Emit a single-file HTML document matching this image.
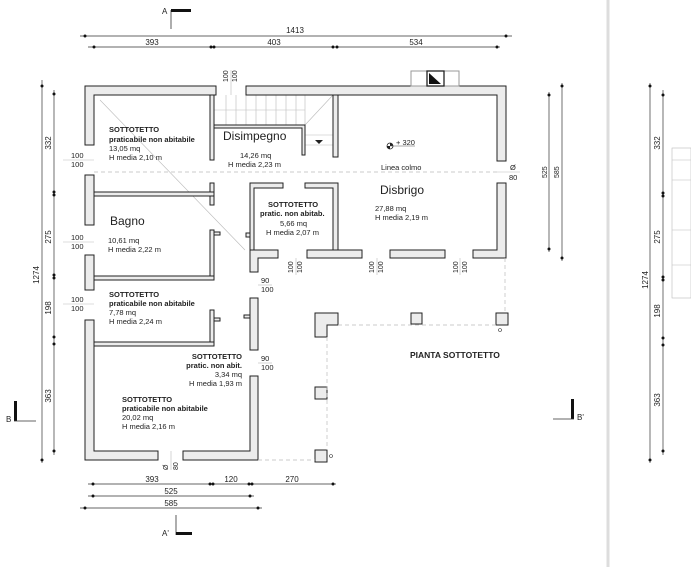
<!DOCTYPE html>
<html><head><meta charset="utf-8"><style>
html,body{margin:0;padding:0;background:#fff}
svg{display:block}
text{font-family:"Liberation Sans",sans-serif;fill:#222}
.w{fill:#ececec;stroke:#222;stroke-width:1}
.d{stroke:#333;stroke-width:0.7;fill:none}
.s{font-size:7.5px}
.b{font-size:7.5px;font-weight:bold}
.l{stroke:#bbb;stroke-width:0.6;fill:none}
.ds{stroke:#bbb;stroke-width:0.7;stroke-dasharray:4 3;fill:none}
</style></head><body>
<svg width="691" height="567" viewBox="0 0 691 567" xmlns="http://www.w3.org/2000/svg">
<rect width="691" height="567" fill="#fff"/>
<line x1="608" y1="0" x2="608" y2="567" stroke="#ddd" stroke-width="3"/>
<g class="l"><rect x="672" y="148" width="19" height="150"/><line x1="672" y1="160" x2="691" y2="160"/><line x1="672" y1="180" x2="691" y2="180"/><line x1="672" y1="230" x2="691" y2="230"/><line x1="672" y1="265" x2="691" y2="265"/></g>
<line x1="94" y1="172" x2="497" y2="172" class="ds"/>
<line x1="100" y1="100" x2="245" y2="250" class="l"/>
<g class="l" stroke="#999">
<line x1="226" y1="95" x2="226" y2="125"/><line x1="236" y1="95" x2="236" y2="125"/><line x1="246" y1="95" x2="246" y2="125"/><line x1="256" y1="95" x2="256" y2="125"/><line x1="266" y1="95" x2="266" y2="125"/><line x1="276" y1="95" x2="276" y2="125"/><line x1="286" y1="95" x2="286" y2="125"/><line x1="296" y1="95" x2="296" y2="125"/><line x1="305" y1="95" x2="305" y2="125"/>
<line x1="214" y1="110" x2="305" y2="110"/>
<line x1="305" y1="125" x2="333" y2="95"/>
<line x1="305" y1="135" x2="333" y2="135"/><line x1="305" y1="145" x2="333" y2="145"/>
<line x1="216" y1="86" x2="216" y2="95"/><line x1="246" y1="86" x2="246" y2="95"/>
</g>
<polygon points="315,140 323,140 319,144" fill="#222"/>
<g class="w">
<path d="M85,86 H216 V95 H94 V145 H85 Z"/>
<path d="M246,86 H506 V161 H497 V95 H246 Z"/>
<rect x="85" y="175" width="9" height="50"/>
<rect x="85" y="255" width="9" height="35"/>
<path d="M85,320 H94 V451 H158 V460 H85 Z"/>
<path d="M183,451 H250 V376 H258 V460 H183 Z"/>
<rect x="250" y="298" width="8" height="52"/>
<path d="M250,250 H278 V258 H258 V272 H250 Z"/>
<path d="M497,183 H506 V258 H473 V250 H497 Z"/>
<rect x="390" y="250" width="55" height="8"/>
<rect x="307" y="250" width="55" height="8"/>
<rect x="210" y="95" width="4" height="65"/>
<rect x="210" y="183" width="4" height="22"/>
<path d="M94,192 H214 V196 H94 Z"/>
<rect x="210" y="230" width="4" height="46"/>
<rect x="214" y="232" width="6" height="3"/>
<rect x="94" y="276" width="120" height="4"/>
<rect x="210" y="310" width="4" height="35"/>
<rect x="214" y="318" width="6" height="3"/>
<rect x="94" y="342" width="120" height="4"/>
<rect x="244" y="315" width="6" height="3"/>
<path d="M214,125 H305 V155 H302 V128 H214 Z"/>
<rect x="333" y="95" width="5" height="62"/>
<path d="M250,183 H283 V188 H254 V250 H250 Z"/>
<path d="M305,183 H338 V250 H333 V188 H305 Z"/>
<rect x="246" y="233" width="4" height="4"/>
<rect x="411" y="71" width="48" height="15" fill="#fff" stroke="#999"/>
<rect x="427" y="71" width="17" height="15" fill="#fff" stroke="#222" stroke-width="1.3"/>
</g>
<polygon points="429,73 429,84 441,84" fill="#111"/>
<g class="w">
<path d="M315,313 H338 V325 H327 V337 H315 Z"/>
<rect x="411" y="313" width="11" height="11"/>
<rect x="496" y="313" width="12" height="12"/>
<rect x="315" y="387" width="12" height="12"/>
<rect x="315" y="450" width="12" height="12"/>
</g>
<g class="ds"><line x1="338" y1="325" x2="496" y2="325"/><line x1="327" y1="337" x2="327" y2="450"/><line x1="505" y1="258" x2="505" y2="313"/><line x1="258" y1="460" x2="315" y2="460"/></g>
<circle cx="500" cy="330" r="1.5" fill="none" stroke="#333" stroke-width="0.6"/>
<circle cx="331" cy="456" r="1.5" fill="none" stroke="#333" stroke-width="0.6"/>
<text x="109" y="132" class="b">SOTTOTETTO</text>
<text x="109" y="142" class="b">praticabile non abitabile</text>
<text x="109" y="151" class="s">13,05 mq</text>
<text x="109" y="160" class="s">H media 2,10 m</text>
<text x="223" y="140" font-size="12">Disimpegno</text>
<text x="240" y="158" class="s">14,26 mq</text>
<text x="228" y="167" class="s">H media 2,23 m</text>
<text x="110" y="225" font-size="12">Bagno</text>
<text x="108" y="243" class="s">10,61 mq</text>
<text x="108" y="252" class="s">H media 2,22 m</text>
<text x="268" y="207" class="b">SOTTOTETTO</text>
<text x="260" y="216" class="b">pratic. non abitab.</text>
<text x="280" y="226" class="s">5,66 mq</text>
<text x="266" y="235" class="s">H media 2,07 m</text>
<text x="380" y="194" font-size="12">Disbrigo</text>
<text x="375" y="211" class="s">27,88 mq</text>
<text x="375" y="220" class="s">H media 2,19 m</text>
<text x="381" y="170" class="s">Linea colmo</text>
<text x="396" y="145" class="s">+ 320</text>
<circle cx="390" cy="146" r="3" fill="#fff" stroke="#222" stroke-width="0.8"/>
<path d="M390,143 A3,3 0 0 1 393,146 L390,146 Z M390,149 A3,3 0 0 1 387,146 L390,146 Z" fill="#222"/>
<line x1="390" y1="146" x2="415" y2="146" stroke="#555" stroke-width="0.5"/>
<text x="109" y="297" class="b">SOTTOTETTO</text>
<text x="109" y="306" class="b">praticabile non abitabile</text>
<text x="109" y="315" class="s">7,78 mq</text>
<text x="109" y="324" class="s">H media 2,24 m</text>
<text x="242" y="359" class="b" text-anchor="end">SOTTOTETTO</text>
<text x="242" y="368" class="b" text-anchor="end">pratic. non abit.</text>
<text x="242" y="377" class="s" text-anchor="end">3,34 mq</text>
<text x="242" y="386" class="s" text-anchor="end">H media 1,93 m</text>
<text x="122" y="402" class="b">SOTTOTETTO</text>
<text x="122" y="411" class="b">praticabile non abitabile</text>
<text x="122" y="420" class="s">20,02 mq</text>
<text x="122" y="429" class="s">H media 2,16 m</text>
<text x="410" y="358" font-size="8.5" font-weight="bold">PIANTA SOTTOTETTO</text>
<g class="s" font-size="7">
<text x="71" y="158">100</text><text x="71" y="167">100</text>
<text x="71" y="240">100</text><text x="71" y="249">100</text>
<text x="71" y="302">100</text><text x="71" y="311">100</text>
<text x="261" y="283">90</text><text x="261" y="292">100</text>
<text x="261" y="361">90</text><text x="261" y="370">100</text>
<text x="510" y="170">Ø</text><text x="509" y="180">80</text>
</g>
<g font-size="7">
<text transform="translate(228,82) rotate(-90)">100</text><text transform="translate(237,82) rotate(-90)">100</text>
<text transform="translate(293,273) rotate(-90)">100</text><text transform="translate(302,273) rotate(-90)">100</text>
<text transform="translate(374,273) rotate(-90)">100</text><text transform="translate(383,273) rotate(-90)">100</text>
<text transform="translate(458,273) rotate(-90)">100</text><text transform="translate(467,273) rotate(-90)">100</text>
<text transform="translate(168,470) rotate(-90)">Ø</text><text transform="translate(178,470) rotate(-90)">80</text>
<text transform="translate(547,178) rotate(-90)">525</text><text transform="translate(559,178) rotate(-90)">585</text>
</g>
<g class="l" stroke="#999"><line x1="63" y1="160" x2="94" y2="160"/><line x1="63" y1="242" x2="94" y2="242"/><line x1="63" y1="304" x2="94" y2="304"/><line x1="258" y1="285" x2="272" y2="285"/><line x1="258" y1="363" x2="272" y2="363"/><line x1="497" y1="172" x2="520" y2="172"/><line x1="231" y1="70" x2="231" y2="95"/><line x1="296" y1="258" x2="296" y2="275"/><line x1="377" y1="258" x2="377" y2="275"/><line x1="460" y1="258" x2="460" y2="275"/><line x1="171" y1="451" x2="171" y2="470"/></g>
<g class="d">
<line x1="80" y1="36" x2="512" y2="36"/>
<line x1="88" y1="47" x2="500" y2="47"/>
<line x1="88" y1="484" x2="336" y2="484"/>
<line x1="88" y1="496" x2="254" y2="496"/>
<line x1="80" y1="508" x2="262" y2="508"/>
<line x1="42" y1="80" x2="42" y2="463"/>
<line x1="54" y1="90" x2="54" y2="455"/>
<line x1="549" y1="92" x2="549" y2="252"/>
<line x1="562" y1="83" x2="562" y2="261"/>
<line x1="650" y1="83" x2="650" y2="463"/>
<line x1="663" y1="90" x2="663" y2="455"/>
</g>
<g fill="#111">
<circle cx="85" cy="36" r="1.5"/><circle cx="506" cy="36" r="1.5"/>
<circle cx="94" cy="47" r="1.5"/><circle cx="211" cy="47" r="1.5"/><circle cx="214" cy="47" r="1.5"/><circle cx="333" cy="47" r="1.5"/><circle cx="337" cy="47" r="1.5"/><circle cx="497" cy="47" r="1.5"/>
<circle cx="93" cy="484" r="1.5"/><circle cx="210" cy="484" r="1.5"/><circle cx="213" cy="484" r="1.5"/><circle cx="249" cy="484" r="1.5"/><circle cx="252" cy="484" r="1.5"/><circle cx="333" cy="484" r="1.5"/>
<circle cx="93" cy="496" r="1.5"/><circle cx="250" cy="496" r="1.5"/>
<circle cx="85" cy="508" r="1.5"/><circle cx="258" cy="508" r="1.5"/>
<circle cx="42" cy="86" r="1.5"/><circle cx="42" cy="460" r="1.5"/>
<circle cx="54" cy="94" r="1.5"/><circle cx="54" cy="192" r="1.5"/><circle cx="54" cy="195" r="1.5"/><circle cx="54" cy="275" r="1.5"/><circle cx="54" cy="278" r="1.5"/><circle cx="54" cy="337" r="1.5"/><circle cx="54" cy="344" r="1.5"/><circle cx="54" cy="451" r="1.5"/>
<circle cx="549" cy="95" r="1.5"/><circle cx="549" cy="249" r="1.5"/><circle cx="562" cy="86" r="1.5"/><circle cx="562" cy="258" r="1.5"/>
<circle cx="650" cy="86" r="1.5"/><circle cx="650" cy="460" r="1.5"/>
<circle cx="663" cy="95" r="1.5"/><circle cx="663" cy="193" r="1.5"/><circle cx="663" cy="196" r="1.5"/><circle cx="663" cy="277" r="1.5"/><circle cx="663" cy="280" r="1.5"/><circle cx="663" cy="338" r="1.5"/><circle cx="663" cy="345" r="1.5"/><circle cx="663" cy="451" r="1.5"/>
</g>
<g font-size="8">
<text x="295" y="33" text-anchor="middle">1413</text>
<text x="152" y="45" text-anchor="middle">393</text>
<text x="274" y="45" text-anchor="middle">403</text>
<text x="416" y="45" text-anchor="middle">534</text>
<text x="152" y="482" text-anchor="middle">393</text>
<text x="231" y="482" text-anchor="middle">120</text>
<text x="292" y="482" text-anchor="middle">270</text>
<text x="171" y="494" text-anchor="middle">525</text>
<text x="171" y="506" text-anchor="middle">585</text>
<text transform="translate(51,143) rotate(-90)" text-anchor="middle">332</text>
<text transform="translate(51,237) rotate(-90)" text-anchor="middle">275</text>
<text transform="translate(51,308) rotate(-90)" text-anchor="middle">198</text>
<text transform="translate(51,396) rotate(-90)" text-anchor="middle">363</text>
<text transform="translate(39,275) rotate(-90)" text-anchor="middle">1274</text>
<text transform="translate(660,143) rotate(-90)" text-anchor="middle">332</text>
<text transform="translate(660,237) rotate(-90)" text-anchor="middle">275</text>
<text transform="translate(660,311) rotate(-90)" text-anchor="middle">198</text>
<text transform="translate(660,400) rotate(-90)" text-anchor="middle">363</text>
<text transform="translate(648,280) rotate(-90)" text-anchor="middle">1274</text>
</g>
<line x1="171" y1="10" x2="171" y2="29" stroke="#333" stroke-width="0.8"/>
<rect x="171" y="9" width="20" height="3" fill="#111"/>
<text x="162" y="14" font-size="8">A</text>
<line x1="176" y1="515" x2="176" y2="535" stroke="#333" stroke-width="0.8"/>
<rect x="176" y="532" width="16" height="3" fill="#111"/>
<text x="162" y="536" font-size="8">A'</text>
<rect x="14" y="401" width="3" height="20" fill="#111"/>
<line x1="14" y1="421" x2="36" y2="421" stroke="#333" stroke-width="0.8"/>
<text x="6" y="422" font-size="8">B</text>
<rect x="571" y="399" width="3" height="20" fill="#111"/>
<line x1="553" y1="419" x2="574" y2="419" stroke="#333" stroke-width="0.8"/>
<text x="577" y="420" font-size="8">B'</text>
</svg>
</body></html>
